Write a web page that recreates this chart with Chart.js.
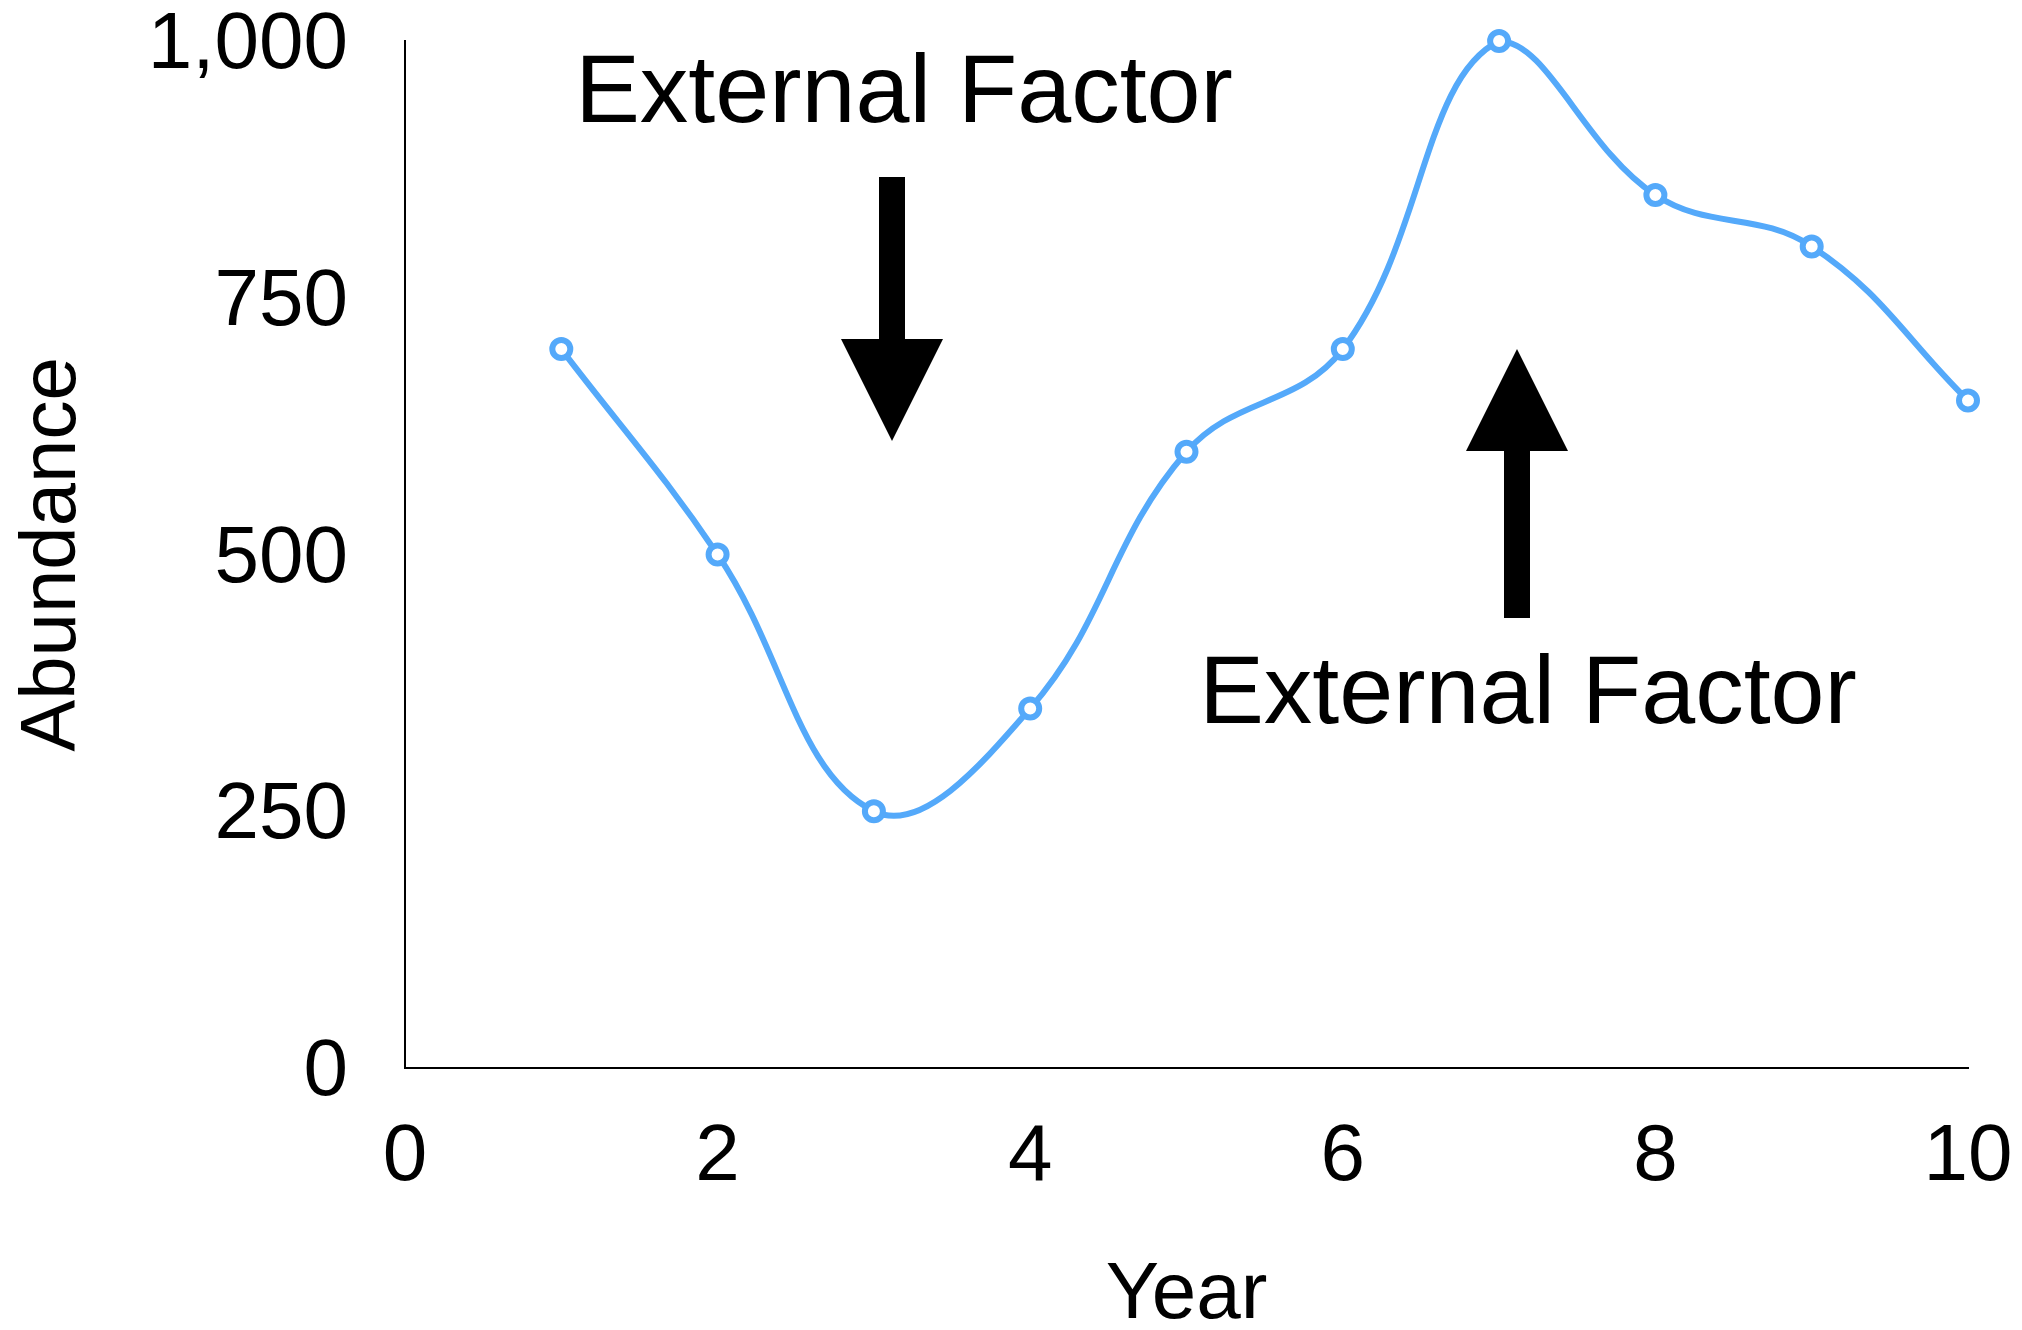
<!DOCTYPE html>
<html><head><meta charset="utf-8">
<script src="https://cdn.jsdelivr.net/npm/chart.js@4.4.1/dist/chart.umd.min.js"></script>
<style>html,body{margin:0;padding:0;background:#fff}#wrap{width:2022px;height:1330px}</style>
</head><body><div id="wrap"><canvas id="c" width="2022" height="1330"></canvas></div>
<script>
const years = [1, 2, 3, 4, 5, 6, 7, 8, 9, 10];
const abundance = [700, 500, 250, 350, 600, 700, 1000, 850, 800, 650];
const xTickValues = [0, 2, 4, 6, 8, 10];
const xTickLabels = ['0', '2', '4', '6', '8', '10'];
const yTickValues = [0, 250, 500, 750, 1000];
const yTickLabels = ['0', '250', '500', '750', '1,000'];
const xTitle = 'Year';
const yTitle = 'Abundance';
const noteLabels = ['External Factor', 'External Factor'];

const FONT = "'Liberation Sans', Arial, Helvetica, sans-serif";
const LINE = 'rgb(84,169,250)';

const annotationPlugin = {
  id: 'annotations',
  afterDraw(chart) {
    const ctx = chart.ctx;
    ctx.save();
    ctx.fillStyle = '#000';
    ctx.font = '97px ' + FONT;
    ctx.textAlign = 'center';
    ctx.textBaseline = 'alphabetic';
    ctx.fillText(noteLabels[0], 904, 122);
    ctx.fillText(noteLabels[1], 1528, 723);
    // down arrow
    ctx.beginPath();
    ctx.moveTo(879, 177); ctx.lineTo(905, 177); ctx.lineTo(905, 339);
    ctx.lineTo(943, 339); ctx.lineTo(892, 441); ctx.lineTo(841, 339);
    ctx.lineTo(879, 339); ctx.closePath(); ctx.fill();
    // up arrow
    ctx.beginPath();
    ctx.moveTo(1504, 618); ctx.lineTo(1530, 618); ctx.lineTo(1530, 451);
    ctx.lineTo(1568, 451); ctx.lineTo(1517, 349); ctx.lineTo(1466, 451);
    ctx.lineTo(1504, 451); ctx.closePath(); ctx.fill();
    ctx.restore();
  }
};

new Chart(document.getElementById('c'), {
  type: 'line',
  data: {
    datasets: [{
      data: years.map((y, i) => ({ x: y, y: abundance[i] })),
      borderColor: LINE,
      borderWidth: 6,
      tension: 0.4,
      pointRadius: 9,
      pointBorderWidth: 6,
      pointBackgroundColor: '#fff',
      pointBorderColor: LINE,
      fill: false,
      clip: false
    }]
  },
  options: {
    responsive: false,
    devicePixelRatio: 1,
    animation: false,
    events: [],
    layout: { padding: { top: 41, right: 54, bottom: 0, left: 0 } },
    plugins: { legend: { display: false }, tooltip: { enabled: false } },
    scales: {
      x: {
        type: 'linear', min: 0, max: 10,
        afterBuildTicks(scale) { scale.ticks = xTickValues.map(v => ({ value: v })); },
        afterFit(scale) { scale.height = 262; scale.paddingLeft = 0; scale.paddingRight = 0; },
        grid: { display: false, drawTicks: false },
        border: { display: true, color: '#000', width: 2 },
        ticks: {
          color: '#000', padding: 50, maxRotation: 0, autoSkip: false,
          font: { family: FONT, size: 80, lineHeight: 1 },
          callback: v => xTickLabels[xTickValues.indexOf(v)]
        },
        title: {
          display: true, text: xTitle, color: '#000',
          font: { family: FONT, size: 80, lineHeight: 1 },
          padding: { top: 0, bottom: -6 }
        }
      },
      y: {
        type: 'linear', min: 0, max: 1000,
        afterBuildTicks(scale) { scale.ticks = yTickValues.map(v => ({ value: v })); },
        afterFit(scale) { scale.width = 405; scale.paddingTop = 0; scale.paddingBottom = 0; },
        grid: { display: false, drawTicks: false },
        border: { display: true, color: '#000', width: 2 },
        ticks: {
          color: '#000', padding: 57, autoSkip: false,
          font: { family: FONT, size: 80, lineHeight: '10px' },
          callback: v => ['', yTickLabels[yTickValues.indexOf(v)]]
        },
        title: {
          display: true, text: yTitle, color: '#000',
          font: { family: FONT, size: 78, lineHeight: 1 },
          padding: { top: 14, bottom: 0 }
        }
      }
    }
  },
  plugins: [annotationPlugin]
});
</script>
</body></html>
